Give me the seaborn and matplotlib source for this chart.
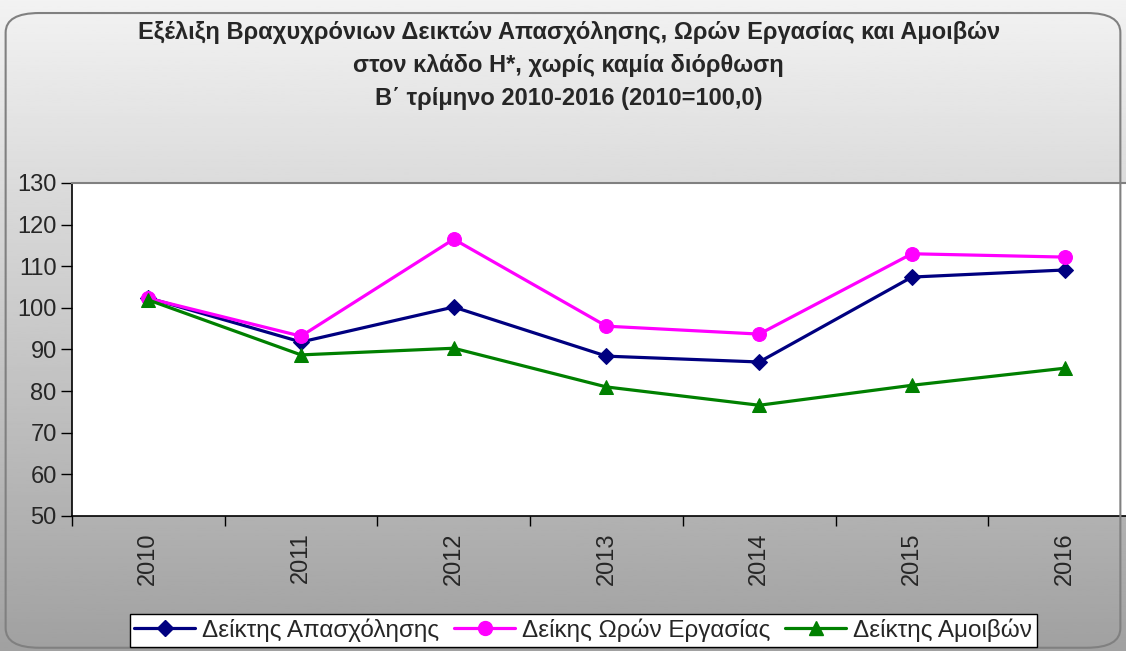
import numpy as np
import pandas as pd
import matplotlib
matplotlib.use("Agg")
import matplotlib.pyplot as plt
from matplotlib.patches import FancyBboxPatch
from matplotlib.lines import Line2D
import seaborn as sns

# data
years = ["2010", "2011", "2012", "2013", "2014", "2015", "2016"]
employment = [102.4, 91.8, 100.2, 88.4, 87.0, 107.4, 109.1]
hours = [102.3, 93.2, 116.5, 95.6, 93.7, 113.0, 112.2]
wages = [101.9, 88.7, 90.3, 81.0, 76.6, 81.4, 85.5]
series_names = ["Δείκτης Απασχόλησης", "Δείκης Ωρών Εργασίας", "Δείκτης Αμοιβών"]
title_lines = [
    "Εξέλιξη Βραχυχρόνιων Δεικτών Απασχόλησης, Ωρών Εργασίας και Αμοιβών",
    "στον κλάδο Η*, χωρίς καμία διόρθωση",
    "Β΄ τρίμηνο 2010-2016 (2010=100,0)",
]

sns.set_theme(style="white")
plt.rcParams['font.family'] = ['Liberation Sans', 'DejaVu Sans']

fig = plt.figure(figsize=(11.26, 6.51), dpi=100)

# gradient background of the chart area
bg = fig.add_axes([0, 0, 1, 1], zorder=-2)
grad = np.linspace(0.95, 0.63, 256).reshape(-1, 1)
bg.imshow(grad, aspect="auto", cmap="gray", vmin=0, vmax=1, extent=[0, 1, 0, 1])
bg.set_axis_off()
fig.patches.append(FancyBboxPatch((0.005, 0.005), 0.99, 0.975,
                                  boxstyle="round,pad=0,rounding_size=0.03",
                                  transform=fig.transFigure, fill=False,
                                  edgecolor="#808080", linewidth=1.5))

ax = fig.add_axes([0.0639, 0.2074, 0.9494, 0.5115])
ax.set_facecolor("white")

pos = np.arange(len(years))
styles = [
    (employment, "#000080", "D", 8),
    (hours, "#FF00FF", "o", 10),
    (wages, "#008000", "^", 10),
]
handles = []
for (vals, col, mk, ms), name in zip(styles, series_names):
    sns.lineplot(x=pos, y=vals, ax=ax, color=col, marker=mk, markersize=ms,
                 markeredgecolor=col, linewidth=2.3, legend=False)
    handles.append(Line2D([], [], color=col, marker=mk, markersize=ms,
                          markeredgecolor=col, linewidth=2.3, label=name))

ax.set_xlim(-0.5, len(years) - 0.5)
ax.set_ylim(50, 130)
ax.set_yticks(range(50, 131, 10))
ax.set_xticks(np.arange(-0.5, len(years), 1.0))
ax.set_xticklabels([])
ax.set_xticks(pos, minor=True)
ax.set_xticklabels(years, minor=True, rotation=90)
ax.tick_params(axis="x", which="major", direction="out", length=7, width=1, color="black", bottom=True)
ax.tick_params(axis="x", which="minor", length=0, pad=12, labelsize=17)
ax.tick_params(axis="y", direction="out", length=8, width=1, color="black", left=True, labelsize=17, pad=3)
ax.set_xlabel("")
ax.set_ylabel("")
for side in ["left", "bottom"]:
    ax.spines[side].set_color("black")
    ax.spines[side].set_linewidth(1.2)
for side in ["top", "right"]:
    ax.spines[side].set_color("#808080")
    ax.spines[side].set_linewidth(1.5)

for i, line in enumerate(title_lines):
    fig.text(0.505, 1 - (33 + 32.5 * i) / 651, line, ha="center", va="center",
             fontsize=17, fontweight="bold")

leg = fig.legend(handles=handles, loc="center", bbox_to_anchor=(0.518, 0.032), ncol=3,
                 frameon=True, fancybox=False, fontsize=17.5, handlelength=2.5,
                 handletextpad=0.3, columnspacing=0.6, borderpad=0.2)
leg.get_frame().set_edgecolor("black")
leg.get_frame().set_facecolor("white")
leg.get_frame().set_alpha(1)

fig.savefig("out.png", dpi=100)
